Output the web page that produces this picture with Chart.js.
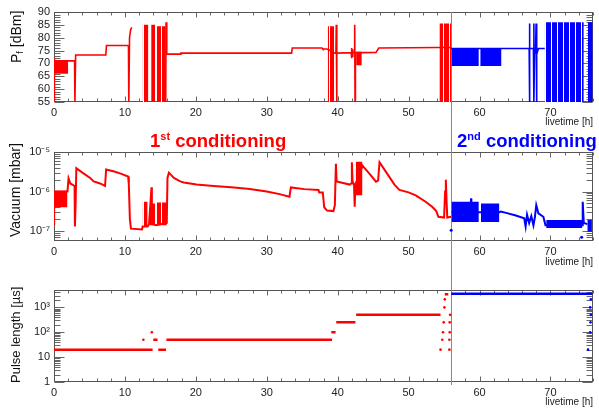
<!DOCTYPE html>
<html><head><meta charset="utf-8">
<script src="https://cdn.jsdelivr.net/npm/chart.js@4.4.1/dist/chart.umd.min.js"></script>
<style>
html,body{margin:0;padding:0;background:#fff;}
#wrap{position:relative;width:599px;height:409px;overflow:hidden;font-family:"Liberation Sans",Arial,sans-serif;}
#wrap canvas{position:absolute;left:0;}
.ytitle{position:absolute;white-space:nowrap;transform-origin:0 0;transform:rotate(-90deg);color:#111;line-height:1;}
.ytitle sub{font-size:9px;vertical-align:-2px;}
.cond{position:absolute;font-weight:bold;font-size:18.5px;white-space:nowrap;line-height:1;}
.cond sup{font-size:11px;vertical-align:7px;line-height:0;}
</style></head>
<body>
<div id="wrap">
  <canvas id="c1" width="599" height="130" style="top:0"></canvas>
  <canvas id="c2" width="599" height="145" style="top:130px"></canvas>
  <canvas id="c3" width="599" height="134" style="top:275px"></canvas>
  <div class="ytitle" style="left:9px;top:63px;font-size:14px;">P<sub>f</sub> [dBm]</div>
  <div class="ytitle" style="left:8px;top:237px;font-size:14px;">Vacuum [mbar]</div>
  <div class="ytitle" style="left:9px;top:383px;font-size:13px;">Pulse length [µs]</div>
  <div class="cond" style="left:150px;top:132px;color:#ff0000;">1<sup>st</sup> conditioning</div>
  <div class="cond" style="left:457px;top:132px;color:#0000ff;">2<sup>nd</sup> conditioning</div>
</div>
<script>
// ---------- axes / ticks ----------
const xMin = 0, xMax = 76;
const xTickValues = [0,10,20,30,40,50,60,70];
const xTitle = 'livetime [h]';
const secondConditioningStart = 56;

const pfMin = 55, pfMax = 90;
const pfTickValues = [55,60,65,70,75,80,85,90];

const vacMin = 5.6e-8, vacMax = 1e-5;
const vacTickValues = [1e-7,1e-6,1e-5];
const vacTickLabels = ['10⁻⁷','10⁻⁶','10⁻⁵'];

const pulseMin = 1, pulseMax = 5000;
const pulseTickValues = [1,10,100,1000];
const pulseTickLabels = ['1','10','10²','10³'];

// ---------- Panel 1: forward power P_f [dBm] ----------
const pfRedT = [0,0.02,0.1,2.9,2.95,3.05,7.3,7.4,10.4,10.5,10.55,10.65,10.8,10.95,11.0,15.75,15.8,15.9,17.8,17.9,33.5,33.6,37.8,37.9,38.5,39.6,39.75,39.8,39.85,39.9,41.9,41.95,42.0,42.05,42.1,42.15,42.35,42.4,42.45,42.5,43.5,45.4,45.8,54.3,56.0];
const pfRedV = [55,72,71,71,55,73.3,73.3,77,77,76.5,55,80,83,84,null,55,86,73.6,73.6,74,74,76,76,75.6,75.6,74,74,85,55,74,74.2,76,72,75.5,72.5,74.2,74.2,85,55,74.2,74.2,74.3,76,76.2,76.2];
const pfRedSolidStart = [0.1,42.6], pfRedSolidEnd = [2.0,43.4];
const pfRedSolidLo = [66,69.3], pfRedSolidHi = [71,74.5];
const pfRedDenseStart = [12.5,13.7,14.5,38.6,54.35], pfRedDenseEnd = [13.3,14.3,15.75,39.5,56.0];
const pfRedDenseLo = [55,55,55,55,55], pfRedDenseHi = [85,85,84.5,84.5,85.5];

const pfBlueT = [56.0,67.0,67.04,67.06,67.1,67.6,67.65,67.68,67.75,67.9,67.98,68.02,68.1,68.3,69.2];
const pfBlueV = [75.8,75.8,85.5,55,75.8,75.8,85.5,55,73.5,75.8,85.5,55,73.5,75.8,75.8];
const pfBlueSolidStart = [56.05,60.1], pfBlueSolidEnd = [59.9,63.1];
const pfBlueSolidLo = [69,69], pfBlueSolidHi = [75.8,75.8];
const pfBlueDenseStart = [69.2,75.25], pfBlueDenseEnd = [74.7,75.95];
const pfBlueDenseLo = [55,55], pfBlueDenseHi = [86,86];

// ---------- Panel 2: vacuum [mbar] ----------
const vacRedT = [0,0.02,1.9,2.05,2.3,2.9,2.95,3.05,3.15,4.0,5.1,5.6,6.5,7.2,7.35,8.5,9.5,10.45,10.55,10.7,10.85,12.4,12.5,13.2,13.4,13.75,13.8,14.4,15.9,16.0,16.2,16.9,17.8,18.3,20.1,22.5,25,27.6,30,31.8,33.2,33.4,35.3,37.3,37.4,37.9,38.1,38.5,39.4,39.6,39.75,39.85,41.7,41.9,42.0,42.1,42.3,42.4,42.5,43.5,44.5,45.4,45.7,45.9,46.5,47,48,48.7,50,51,52.4,53.4,53.9,54.2,55.0,55.15,55.25,55.35,55.45,56.0];
const vacRedV = [1.5e-7,1.0e-6,1.0e-6,2.15e-6,1.6e-6,1.38e-6,1.3e-7,5e-7,3.9e-6,3.0e-6,2.2e-6,1.8e-6,1.6e-6,1.38e-6,3.6e-6,3.2e-6,2.8e-6,2.4e-6,1.5e-6,2e-7,1.15e-7,1.1e-7,1.3e-7,1.3e-7,1.5e-7,1.28e-6,1.5e-7,1.4e-7,1.6e-7,2.2e-6,3.0e-6,2.2e-6,1.8e-6,1.7e-6,1.5e-6,1.38e-6,1.28e-6,1.16e-6,1.0e-6,8.6e-7,7.4e-7,1.27e-6,1.15e-6,1.1e-6,9.5e-7,9.5e-7,4e-7,3.3e-7,3.2e-7,4.5e-7,5e-6,1.8e-6,1.5e-6,1.6e-6,5.5e-6,1.8e-6,1.5e-6,4.1e-7,1.5e-6,4.5e-6,2.8e-6,1.77e-6,1.9e-6,5.5e-6,3.8e-6,2.8e-6,1.5e-6,1.1e-6,9.5e-7,8e-7,5.5e-7,4e-7,3.2e-7,2.3e-7,2.2e-7,1.0e-6,2.0e-6,6e-7,2.2e-7,2.3e-7];
const vacRedSolidStart = [0.05,42.55], vacRedSolidEnd = [1.9,43.5];
const vacRedSolidLo = [4e-7,8e-7], vacRedSolidHi = [1.05e-6,5.7e-6];
const vacRedDenseStart = [12.5,13.5,14.5], vacRedDenseEnd = [13.2,14.3,15.9];
const vacRedDenseLo = [1.3e-7,1.4e-7,1.4e-7], vacRedDenseHi = [5.5e-7,5e-7,5.3e-7];

const vacBlueT = [56.05,58.75,58.8,58.85,62.8,63.0,64,65,66.3,66.5,66.7,67.0,67.3,67.6,67.8,68.0,68.3,69.0,69.3,74.5,74.55,74.7,75.2];
const vacBlueV = [3e-7,3e-7,6.7e-7,3e-7,3e-7,3.1e-7,2.8e-7,2.5e-7,2.1e-7,1.3e-7,2.6e-7,1.6e-7,2.4e-7,1.4e-7,2.2e-7,4.5e-7,2.8e-7,2.3e-7,1.4e-7,1.4e-7,5.5e-7,1.6e-7,1.5e-7];
const vacBlueSolidStart = [56.05,60.2,69.4,75.2], vacBlueSolidEnd = [59.9,62.8,74.5,75.85];
const vacBlueSolidLo = [1.7e-7,1.7e-7,1.2e-7,9.6e-8], vacBlueSolidHi = [5.5e-7,5e-7,1.9e-7,1.9e-7];
const vacBlueDotT = [56.0,74.4], vacBlueDotV = [1.05e-7,7e-8];

// ---------- Panel 3: pulse length [µs] ----------
const pulseRedStart = [0,14.0,14.7,15.85,39.1,39.8,42.6,55.1];
const pulseRedEnd   = [13.9,14.6,15.8,39.2,39.7,42.5,54.5,55.6];
const pulseRedLevel = [20,50,20,50,100,250,500,3400];
const pulseRedDotT = [12.6,13.8,54.5,54.75,54.85,54.95,55.05,55.1,55.75,55.75,55.8,55.8,55.85];
const pulseRedDotV = [50,100,20,50,100,250,1000,2100,20,50,100,250,500];
const pulseBlueStart = [56.0], pulseBlueEnd = [75.9], pulseBlueLevel = [3500];
const pulseBlueDotT = [75.3,75.7,75.6,75.7,75.65,75.6];
const pulseBlueDotV = [20,2100,1000,500,250,100];

// ---------- styling ----------
const RED = 'rgb(255,0,0)', BLUE = 'rgb(0,0,255)';
const FONT = '"Liberation Sans", Arial, sans-serif';
const TICK_COLOR = '#222';

function stripes(color){
  const c = document.createElement('canvas'); c.width = 6; c.height = 8;
  const g = c.getContext('2d');
  g.fillStyle = '#fff'; g.fillRect(0,0,6,8);
  g.fillStyle = color; g.fillRect(0,0,5,8);
  return g.createPattern(c,'repeat');
}
const pts = (ts, vs) => ts.map((t,i) => ({x:t, y:vs[i]}));
function lineDs(ts, vs, color, w){
  return {data: pts(ts,vs), borderColor: color, borderWidth: w, pointRadius: 0, fill: false, tension: 0, spanGaps: false, order: 1};
}
function dotDs(ts, vs, color, r){
  return {data: pts(ts,vs), borderColor: color, backgroundColor: color, showLine: false, pointRadius: r, pointBorderWidth: 0, order: 0};
}
function blocks(starts, ends, los, his, fillStyle){
  const out = [];
  starts.forEach((s,i) => {
    out.push({data:[{x:s,y:his[i]},{x:ends[i],y:his[i]}], borderColor:'transparent', borderWidth:0, pointRadius:0, fill:'+1', backgroundColor: fillStyle, order: 2});
    out.push({data:[{x:s,y:los[i]},{x:ends[i],y:los[i]}], borderColor:'transparent', borderWidth:0, pointRadius:0, fill:false, order: 2});
  });
  return out;
}
function steps(starts, ends, levels, color, w){
  const data = [];
  starts.forEach((s,i) => {
    data.push({x:s, y:levels[i]}, {x:ends[i], y:levels[i]}, {x:ends[i], y:null});
  });
  return {data, borderColor: color, borderWidth: w, pointRadius: 0, fill:false, spanGaps:false, order: 1};
}

// frame with inward ticks (ROOT style)
function minorValues(scale){
  const vals = [];
  if (scale.type === 'logarithmic') {
    for (let d = Math.floor(Math.log10(scale.min)); d <= Math.ceil(Math.log10(scale.max)); d++)
      for (let k = 1; k <= 9; k++) { const v = k * Math.pow(10,d); if (v >= scale.min && v <= scale.max) vals.push({v, major: k === 1}); }
  } else {
    const step = scale.axis === 'x' ? 2 : 1, majorStep = scale.axis === 'x' ? 10 : 5;
    for (let v = Math.ceil(scale.min/step)*step; v <= scale.max + 1e-9; v += step) vals.push({v, major: Math.abs(v/majorStep - Math.round(v/majorStep)) < 1e-9});
  }
  return vals;
}
const frame = {
  id: 'frame',
  beforeDatasetsDraw(chart, args, opts){
    const {ctx, chartArea: a, scales} = chart;
    const L = Math.round(a.left)+0.5, R = Math.round(a.right)-0.5, T = Math.round(a.top)+0.5, B = Math.round(a.bottom)-0.5;
    ctx.save();
    ctx.strokeStyle = '#666'; ctx.lineWidth = 1;
    ctx.beginPath();
    minorValues(scales.x).forEach(({v, major}) => {
      const px = Math.round(scales.x.getPixelForValue(v)) + 0.5, len = major ? 5 : 3;
      ctx.moveTo(px, B); ctx.lineTo(px, B - len);
      ctx.moveTo(px, T); ctx.lineTo(px, T + len);
    });
    minorValues(scales.y).forEach(({v, major}) => {
      const py = Math.round(scales.y.getPixelForValue(v)) + 0.5, len = major ? 10 : 6;
      ctx.moveTo(L, py); ctx.lineTo(L + len, py);
      ctx.moveTo(R, py); ctx.lineTo(R - len, py);
    });
    ctx.stroke();
    ctx.strokeStyle = '#555';
    ctx.strokeRect(L, T, R - L, B - T);
    // separation between the two conditioning runs
    const sx = Math.round(scales.x.getPixelForValue(secondConditioningStart)) + 0.5;
    ctx.strokeStyle = '#888';
    ctx.beginPath();
    ctx.moveTo(sx, opts.lineTop === 'area' ? a.top : 0);
    ctx.lineTo(sx, opts.lineBottom === 'area' ? a.bottom + 3 : chart.height);
    ctx.stroke();
    ctx.restore();
  }
};

function makeChart(id, datasets, yCfg, padTop, xHeight, xTitlePad, lineTop, lineBottom){
  return new Chart(document.getElementById(id), {
    type: 'line',
    data: {datasets},
    options: {
      responsive: false, animation: false, devicePixelRatio: 1,
      layout: {padding: {top: padTop, right: 6, left: 0, bottom: 0}},
      plugins: {legend: {display: false}, tooltip: {enabled: false}, frame: {lineTop, lineBottom}},
      scales: {
        x: {
          type: 'linear', min: xMin, max: xMax,
          grid: {display: false, drawTicks: false}, border: {display: false},
          ticks: {autoSkip: false, maxRotation: 0, padding: 4, color: TICK_COLOR, font: {family: FONT, size: 11}, callback: v => String(v)},
          afterBuildTicks: s => { s.ticks = xTickValues.map(v => ({value: v})); },
          afterFit: s => { s.height = xHeight; },
          title: {display: true, text: xTitle, align: 'end', color: TICK_COLOR, font: {family: FONT, size: 10}, padding: {top: 0, bottom: xTitlePad}}
        },
        y: Object.assign({
          grid: {display: false, drawTicks: false}, border: {display: false},
          afterFit: s => { s.width = 54; }
        }, yCfg)
      }
    },
    plugins: [frame]
  });
}

const redStripes = stripes(RED), blueStripes = stripes(BLUE);

// Panel 1
makeChart('c1', [
  ...blocks(pfRedSolidStart, pfRedSolidEnd, pfRedSolidLo, pfRedSolidHi, RED),
  ...blocks(pfRedDenseStart, pfRedDenseEnd, pfRedDenseLo, pfRedDenseHi, redStripes),
  ...blocks(pfBlueSolidStart, pfBlueSolidEnd, pfBlueSolidLo, pfBlueSolidHi, BLUE),
  ...blocks(pfBlueDenseStart, pfBlueDenseEnd, pfBlueDenseLo, pfBlueDenseHi, blueStripes),
  lineDs(pfRedT, pfRedV, RED, 1.6),
  lineDs(pfBlueT, pfBlueV, BLUE, 1.6)
], {
  type: 'linear', min: pfMin, max: pfMax,
  ticks: {autoSkip: false, padding: 4, color: TICK_COLOR, font: {family: FONT, size: 11}},
  afterBuildTicks: s => { s.ticks = pfTickValues.map(v => ({value: v})); }
}, 12, 28, 2, 'area', 'canvas');

// Panel 2
makeChart('c2', [
  ...blocks(vacRedSolidStart, vacRedSolidEnd, vacRedSolidLo, vacRedSolidHi, RED),
  ...blocks(vacRedDenseStart, vacRedDenseEnd, vacRedDenseLo, vacRedDenseHi, redStripes),
  ...blocks(vacBlueSolidStart, vacBlueSolidEnd, vacBlueSolidLo, vacBlueSolidHi, BLUE),
  lineDs(vacRedT, vacRedV, RED, 2),
  lineDs(vacBlueT, vacBlueV, BLUE, 2),
  dotDs(vacBlueDotT, vacBlueDotV, BLUE, 1.5)
], {
  type: 'logarithmic', min: vacMin, max: vacMax,
  ticks: {autoSkip: false, padding: 4, color: TICK_COLOR, font: {family: FONT, size: 11}, callback: (v, i) => vacTickLabels[i]},
  afterBuildTicks: s => { s.ticks = vacTickValues.map(v => ({value: v})); }
}, 22, 34, 6.5, 'canvas', 'canvas');

// Panel 3
makeChart('c3', [
  steps(pulseRedStart, pulseRedEnd, pulseRedLevel, RED, 2.5),
  steps(pulseBlueStart, pulseBlueEnd, pulseBlueLevel, BLUE, 2.5),
  dotDs(pulseRedDotT, pulseRedDotV, RED, 1.3),
  dotDs(pulseBlueDotT, pulseBlueDotV, BLUE, 1.3)
], {
  type: 'logarithmic', min: pulseMin, max: pulseMax,
  ticks: {autoSkip: false, padding: 4, color: TICK_COLOR, font: {family: FONT, size: 11}, callback: (v, i) => pulseTickLabels[i]},
  afterBuildTicks: s => { s.ticks = pulseTickValues.map(v => ({value: v})); }
}, 15, 27, 1, 'canvas', 'area');
</script>
</body></html>
